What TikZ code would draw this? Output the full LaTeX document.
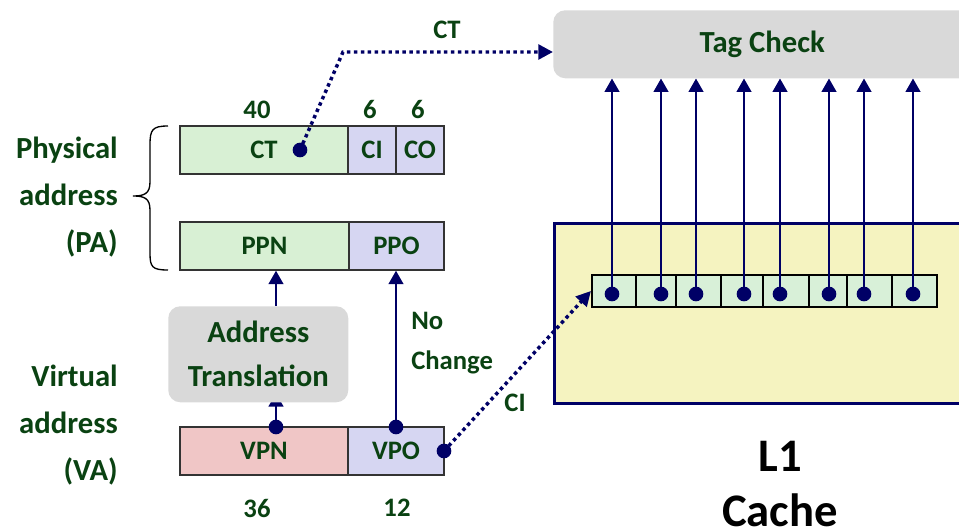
\documentclass[tikz,border=0pt]{standalone}
\usepackage{fontspec}
\setmainfont{Carlito}
\usetikzlibrary{arrows.meta,backgrounds}
\definecolor{txt}{RGB}{10,66,18}
\definecolor{navy}{RGB}{0,0,102}
\definecolor{pgreen}{RGB}{216,240,212}
\definecolor{plav}{RGB}{214,214,242}
\definecolor{ppink}{RGB}{240,198,198}
\definecolor{gray1}{RGB}{217,217,217}
\definecolor{cyellow}{RGB}{245,243,192}
\definecolor{cgreen}{RGB}{216,240,216}
\begin{document}
\begin{tikzpicture}[x=0.75pt,y=-0.75pt,
  lbl/.style={font=\bfseries\fontsize{20}{24}\selectfont, text=txt},
  big/.style={font=\bfseries\fontsize{23}{35}\selectfont, text=txt},
  cell/.style={draw=black!80, line width=1.1pt, inner sep=0pt, minimum height=36pt, lbl},
  ccell/.style={draw=black, line width=1.6pt, fill=cgreen, inner sep=0pt, minimum height=24pt},
  dot/.style={circle, fill=navy, inner sep=0pt, minimum size=11pt},
  arr/.style={draw=navy, line width=1.5pt, -{Triangle[length=10pt,width=11pt]}},
  dotarr/.style={draw=navy, line width=2.6pt, dash pattern=on 2.6pt off 2.6pt, -{Triangle[length=11pt,width=11pt]}},
  gbox/.style={fill=gray1, rounded corners=9pt, inner sep=0pt},
]
\useasboundingbox (0,0) rectangle (959,530);

% Tag check
\node[gbox, big, anchor=north west, minimum width=313.5pt, minimum height=51pt] (tag) at (553,10) {Tag Check};

% L1 cache
\node[draw=navy, line width=2.3pt, fill=cyellow, anchor=north west, minimum width=335pt, minimum height=135pt, inner sep=0pt] (cache) at (553,222) {};
\node[font=\bfseries\fontsize{35}{41}\selectfont, text=black, align=center] (l1) at (780,484) {L1\\Cache};

% cache line cells
\foreach \i/\cx/\w in {1/614/33, 2/656/30, 3/698.5/33.75, 4/742/31.5, 5/786/34.5, 6/828/28.5, 7/869.5/33.75, 8/914.5/33.75}{
  \node[ccell, minimum width=\w pt] (c\i) at (\cx,291) {};
}
\foreach \i/\dx in {1/612, 2/661, 3/696, 4/744, 5/780, 6/829, 7/864, 8/913}{
  \node[dot] (d\i) at (\dx,294) {};
  \draw[arr] (d\i.center) -- (d\i |- tag.south);
}

% address fields
\node[lbl] (n40) at (257,110) {40};
\node[lbl] (n6a) at (370,110) {6};
\node[lbl] (n6b) at (418,110) {6};
\node[cell, fill=pgreen, minimum width=126pt] (ct) at (264,150) {CT};
\node[cell, fill=plav, minimum width=36pt] (ci) at (372,150) {CI};
\node[cell, fill=plav, minimum width=36pt] (co) at (420,150) {CO};
\node[cell, fill=pgreen, minimum width=126.75pt] (ppn) at (264.5,246) {PPN};
\node[cell, fill=plav, minimum width=71.25pt] (ppo) at (396.5,246) {PPO};
\node[cell, fill=ppink, minimum width=126pt] (vpn) at (264,451) {VPN};
\node[cell, fill=plav, minimum width=72pt] (vpo) at (396,451) {VPO};
\node[lbl] (n36) at (257,508) {36};
\node[lbl] (n12) at (397,508) {12};

% translation box
\node[gbox, big, font=\bfseries\fontsize{23}{33}\selectfont, align=center, anchor=north west, minimum width=135pt, minimum height=72pt] (trans) at (168,306) {Address\\Translation};

% side labels
\node[big, align=right, anchor=east, inner sep=0pt] (pa) at (118,197) {Physical\\address\\(PA)};
\node[big, align=right, anchor=east, inner sep=0pt] (va) at (118,425) {Virtual\\address\\(VA)};
\node[lbl, font=\bfseries\fontsize{20}{30}\selectfont, align=left, anchor=west, inner sep=0pt] (nochg) at (411,343) {No\\Change};
\node[lbl] (cil) at (515,403) {CI};
\node[lbl] (ctl) at (447,30) {CT};

% brace
\draw[black, line width=1pt] (168,126) .. controls (152,126) and (150,130) .. (150,145) -- (150,182) .. controls (150,194) and (144,196) .. (133,196) .. controls (144,196) and (150,198) .. (150,210) -- (150,253) .. controls (150,267) and (152,270) .. (168,270);

% dots
\node[dot] (ctdot) at (300,150) {};
\node[dot] (vpndot) at (276,427) {};
\node[dot] (vpodot) at (396,427) {};
\node[dot] (vpor) at (444,451) {};

% connectors
\coordinate (bend) at (343,52);
\draw[dotarr] (ctdot.center) -- (bend) -- (bend -| tag.west);
\draw[arr] (vpodot.center) -- (vpodot |- ppo.south);
\draw[arr] (vpndot |- trans.north) -- (vpndot |- ppn.south);
\coordinate (tb) at (vpndot |- trans.south);
\begin{scope}[on background layer]
\draw[arr] (vpndot.center) -- ([yshift=7pt]tb);
\end{scope}
\draw[dotarr] (vpor.center) -- (c1.west);
\end{tikzpicture}
\end{document}
